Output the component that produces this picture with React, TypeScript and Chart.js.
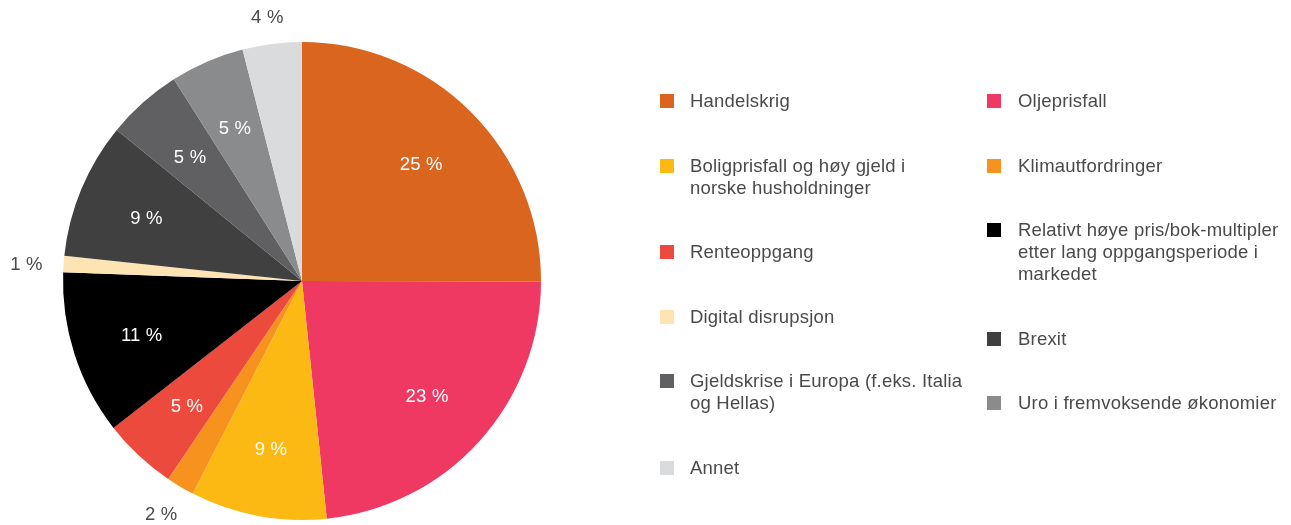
import React, { useEffect, useRef } from "react";
import { Chart, registerables } from "chart.js";

Chart.register(...registerables);

const categories: string[][] = [
  ["Handelskrig"],
  ["Oljeprisfall"],
  ["Boligprisfall og høy gjeld i", "norske husholdninger"],
  ["Klimautfordringer"],
  ["Renteoppgang"],
  ["Relativt høye pris/bok-multipler", "etter lang oppgangsperiode i", "markedet"],
  ["Digital disrupsjon"],
  ["Brexit"],
  ["Gjeldskrise i Europa (f.eks. Italia", "og Hellas)"],
  ["Uro i fremvoksende økonomier"],
  ["Annet"],
];

const values: number[] = [25, 23.3, 9.2, 1.9, 5, 11.1, 1.1, 9.2, 5.1, 5, 4];

const colors: string[] = [
  "#D9651E",
  "#EF3962",
  "#FDB913",
  "#F7921E",
  "#EB4A3C",
  "#000000",
  "#FDE4B2",
  "#404040",
  "#606062",
  "#8A8B8D",
  "#DADBDD",
];

const FONT = '18.5px "Liberation Sans", Arial, sans-serif';
const SPACING = "0.2px";
const TEXT = "#4a4a4a";

const labelPlugin = {
  id: "sliceLabels",
  afterDatasetsDraw(chart: any) {
    const ctx = chart.ctx;
    const meta = chart.getDatasetMeta(0);
    ctx.save();
    ctx.font = FONT;
    (ctx as any).letterSpacing = SPACING;
    ctx.textAlign = "center";
    ctx.textBaseline = "middle";
    meta.data.forEach((arc: any, i: number) => {
      const { x, y, startAngle, endAngle, outerRadius } = arc.getProps(
        ["x", "y", "startAngle", "endAngle", "outerRadius"],
        true
      );
      const mid = (startAngle + endAngle) / 2;
      const v = values[i];
      const text = Math.round(v) + " %";
      const c = Math.cos(mid);
      const s = Math.sin(mid);
      let px: number;
      let py: number;
      if (v < 4.5) {
        const w = ctx.measureText(text).width;
        const r = outerRadius + 21;
        px = x + c * r + c * (w / 2);
        py = y + s * r + s * 8;
        ctx.fillStyle = TEXT;
      } else {
        const r = outerRadius * 0.705;
        px = x + c * r;
        py = y + s * r;
        ctx.fillStyle = "#ffffff";
      }
      ctx.fillText(text, px, py + 3);
    });
    ctx.restore();
  },
};

const legendPlugin = {
  id: "customLegend",
  afterDraw(chart: any) {
    const ctx = chart.ctx;
    ctx.save();
    ctx.font = FONT;
    (ctx as any).letterSpacing = SPACING;
    ctx.textBaseline = "middle";
    ctx.textAlign = "left";
    const cols = [
      { box: 660, text: 690 },
      { box: 987, text: 1018 },
    ];
    const yPos = [101, 101];
    const lineH = 22;
    categories.forEach((lines, i) => {
      const c = i % 2;
      const y = yPos[c];
      ctx.fillStyle = colors[i];
      ctx.fillRect(cols[c].box, Math.round(y - 7), 14, 14);
      ctx.fillStyle = TEXT;
      lines.forEach((ln, k) => ctx.fillText(ln, cols[c].text, y + 1 + k * lineH));
      yPos[c] = y + lines.length * lineH + 42.5;
    });
    ctx.restore();
  },
};

export default function App() {
  const ref = useRef<HTMLCanvasElement | null>(null);
  useEffect(() => {
    if (!ref.current) return;
    const chart = new Chart(ref.current, {
      type: "pie",
      data: {
        labels: categories.map((l) => l.join(" ")),
        datasets: [
          {
            data: values,
            backgroundColor: colors,
            borderWidth: 0,
          },
        ],
      },
      options: {
        responsive: false,
        animation: false,
        devicePixelRatio: 1,
        layout: { padding: { left: 63, right: 750, top: 42, bottom: 5 } },
        plugins: {
          legend: { display: false },
          tooltip: { enabled: false },
        },
      },
      plugins: [labelPlugin, legendPlugin],
    });
    return () => chart.destroy();
  }, []);
  return (
    <div style={{ position: "absolute", left: 0, top: 0, width: 1291, height: 525, background: "#fff" }}>
      <canvas ref={ref} width={1291} height={525} style={{ width: 1291, height: 525 }} />
    </div>
  );
}
